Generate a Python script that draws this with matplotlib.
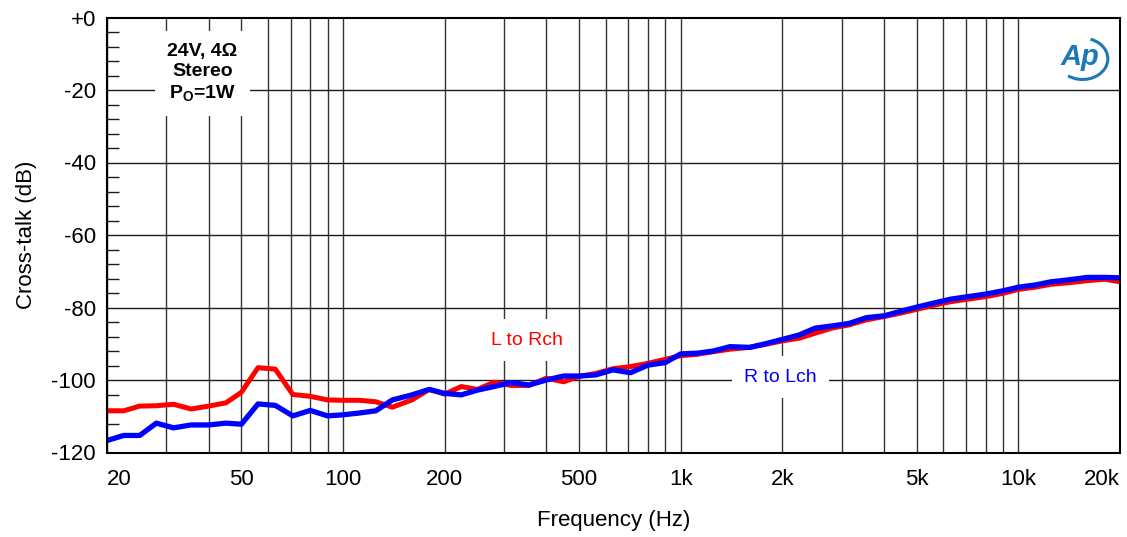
import matplotlib
matplotlib.use("Agg")
import matplotlib.pyplot as plt
from matplotlib.ticker import FixedLocator, NullFormatter, MultipleLocator
from matplotlib.patches import Arc

plt.rcParams['font.family'] = ['Liberation Sans', 'DejaVu Sans']
plt.rcParams['mathtext.fontset'] = 'custom'
plt.rcParams['mathtext.rm'] = 'Liberation Sans'
plt.rcParams['mathtext.bf'] = 'Liberation Sans:bold'

freq = [20, 22.4, 25, 28, 31.5, 35.5, 40, 45, 50, 56, 63, 71, 80, 90, 100, 112, 125, 140,
        160, 180, 200, 224, 250, 280, 315, 355, 400, 450, 500, 560, 630, 710, 800, 900,
        1000, 1120, 1250, 1400, 1600, 1800, 2000, 2240, 2500, 2800, 3150, 3550, 4000,
        4500, 5000, 5600, 6300, 7100, 8000, 9000, 10000, 11200, 12500, 14000, 16000,
        18000, 20000]

l_to_r = [-108.5, -108.5, -107.2, -107.1, -106.7, -108.0, -107.2, -106.3, -103.4, -96.6,
          -97.0, -104.0, -104.5, -105.5, -105.6, -105.6, -106.0, -107.5, -105.5, -102.6,
          -103.9, -101.8, -102.6, -100.6, -101.5, -101.5, -99.5, -100.5, -99.0, -98.2,
          -96.9, -96.3, -95.4, -94.3, -93.3, -92.9, -92.2, -91.5, -91.0, -90.1, -89.2,
          -88.5, -87.1, -85.7, -84.8, -83.4, -82.5, -81.5, -80.5, -79.4, -78.4, -77.7,
          -77.0, -76.1, -75.0, -74.4, -73.6, -73.2, -72.6, -72.2, -72.9]

r_to_l = [-116.7, -115.3, -115.3, -111.9, -113.2, -112.4, -112.4, -111.9, -112.2, -106.6,
          -107.0, -109.9, -108.4, -109.9, -109.6, -109.1, -108.5, -105.5, -104.1, -102.6,
          -103.7, -104.1, -102.8, -101.8, -100.7, -101.4, -100.0, -98.9, -98.9, -98.6,
          -97.2, -98.0, -95.9, -95.2, -92.8, -92.6, -92.0, -90.8, -91.0, -89.9, -88.8,
          -87.6, -85.7, -85.1, -84.4, -82.8, -82.3, -81.0, -79.9, -78.8, -77.7, -77.0,
          -76.3, -75.4, -74.4, -73.8, -72.9, -72.4, -71.7, -71.7, -71.8]

xtick_vals = [20, 50, 100, 200, 500, 1000, 2000, 5000, 10000, 20000]
xtick_labels = ['20', '50', '100', '200', '500', '1k', '2k', '5k', '10k', '20k']
xgrid_vals = [20, 30, 40, 50, 60, 70, 80, 90, 100, 200, 300, 400, 500, 600, 700, 800, 900,
              1000, 2000, 3000, 4000, 5000, 6000, 7000, 8000, 9000, 10000, 20000]
ytick_vals = [0, -20, -40, -60, -80, -100, -120]
ytick_labels = ['+0', '-20', '-40', '-60', '-80', '-100', '-120']

fig = plt.figure(figsize=(11.27, 5.37), dpi=100)
ax = fig.add_axes([107 / 1127, 84.5 / 537, 1013 / 1127, 435 / 537])

ax.set_xscale('log')
ax.set_xlim(20, 20000)
ax.set_ylim(-120, 0)

# grid
for xv in xgrid_vals:
    ax.axvline(xv, color='0.2', lw=1.0, zorder=1)
for yv in ytick_vals[1:-1]:
    ax.axhline(yv, color='0.1', lw=1.0, zorder=1)

ax.xaxis.set_major_locator(FixedLocator(xtick_vals))
ax.set_xticklabels(xtick_labels, fontsize=16)
ax.xaxis.set_minor_locator(FixedLocator([]))
ax.xaxis.set_minor_formatter(NullFormatter())
ax.tick_params(axis='x', which='both', length=0, pad=12)
xl = ax.get_xticklabels()
xl[0].set_horizontalalignment('left')
xl[-1].set_horizontalalignment('right')

ax.yaxis.set_major_locator(FixedLocator(ytick_vals))
ax.set_yticklabels(ytick_labels, fontsize=16)
ax.yaxis.set_minor_locator(MultipleLocator(4))
ax.tick_params(axis='y', which='major', length=0, pad=8)
ax.tick_params(axis='y', which='minor', direction='in', length=8.5, width=1.0, color='0.1')

for s in ax.spines.values():
    s.set_linewidth(1.5)
    s.set_color('black')
    s.set_zorder(5)

ax.plot(freq, l_to_r, color='#ff0000', lw=3.6, zorder=4, solid_joinstyle='round')
ax.plot(freq, r_to_l, color='#0000ff', lw=3.8, zorder=4.5, solid_joinstyle='round')

ax.set_xlabel('Frequency (Hz)', fontsize=16, labelpad=14)
ax.set_ylabel('Cross-talk (dB)', fontsize=16, labelpad=10)

ax.text(0.094, 0.872, '24V, 4\u03a9\nStereo\nP$_\\mathbf{O}$=1W', transform=ax.transAxes,
        fontsize=14, fontweight='bold', ha='center', va='center', linespacing=1.25,
        zorder=3, bbox=dict(facecolor='white', edgecolor='none', pad=9))

ax.text(0.415, 0.258, 'L to Rch', transform=ax.transAxes, color='#ff0000', fontsize=14,
        ha='center', va='center', zorder=3,
        bbox=dict(facecolor='white', edgecolor='none', pad=9))
ax.text(0.665, 0.173, 'R to Lch', transform=ax.transAxes, color='#0000ff', fontsize=14,
        ha='center', va='center', zorder=3,
        bbox=dict(facecolor='white', edgecolor='none', pad=9))

# AP logo
logo_c = '#1a7ab8'
ax.text(0.960, 0.910, 'Ap', transform=ax.transAxes, color=logo_c, fontsize=21,
        fontweight='bold', fontstyle='italic', ha='center', va='center', zorder=6)
ax.add_patch(Arc((0.963, 0.905), 0.05, 0.095, transform=ax.transAxes, theta1=-110,
                 theta2=80, color=logo_c, lw=2.2, zorder=6))

fig.savefig('out.png', dpi=100)
